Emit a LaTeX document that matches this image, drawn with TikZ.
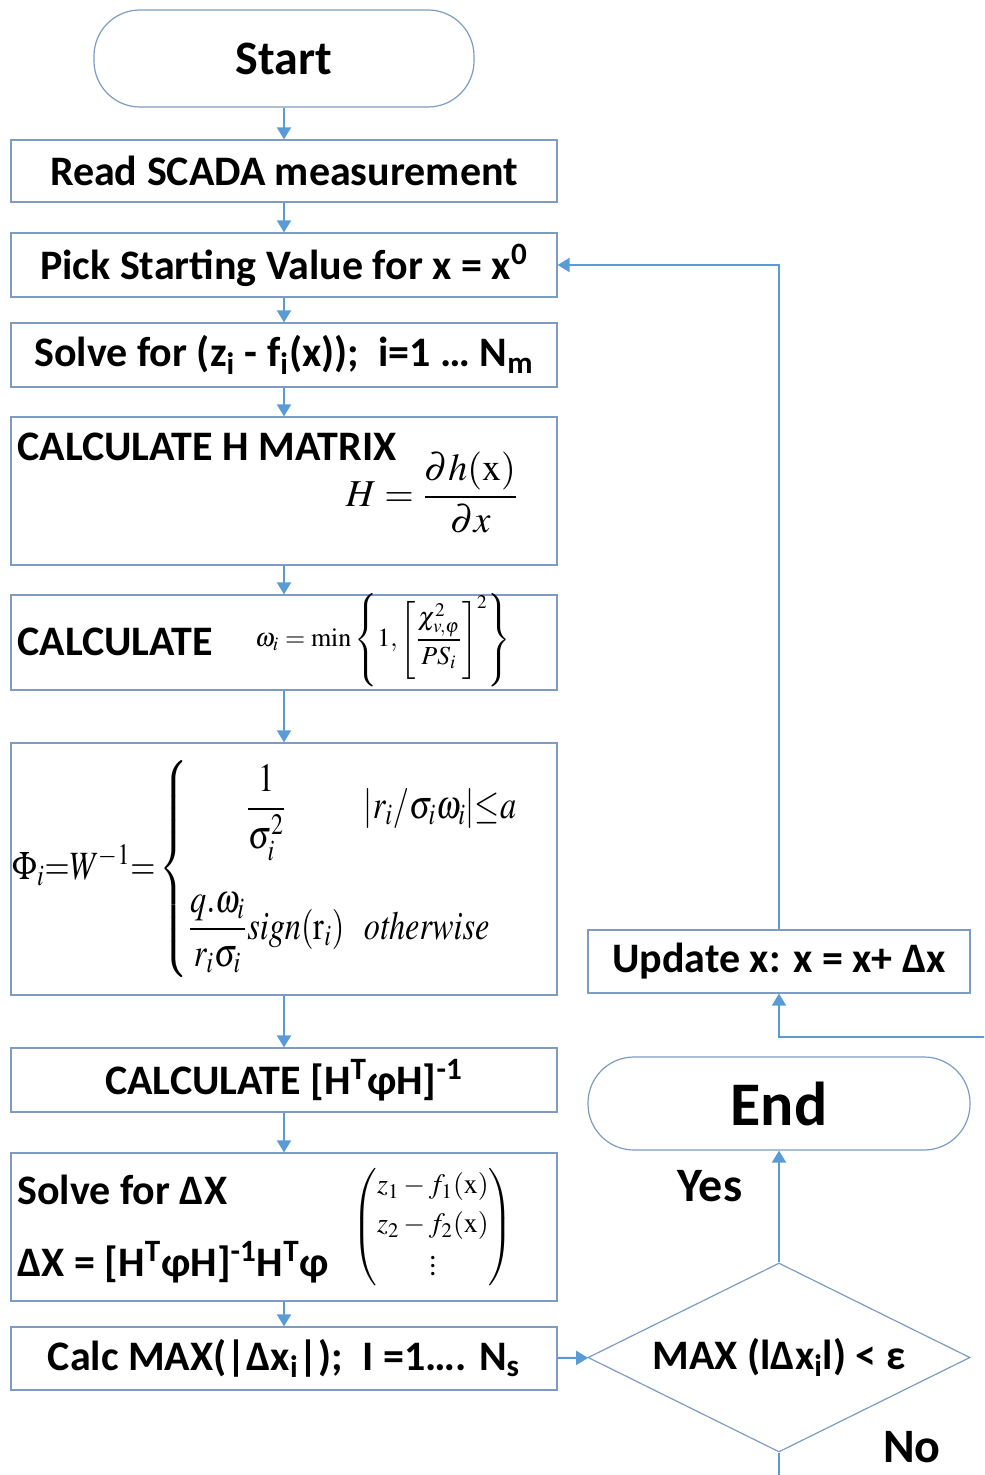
\documentclass[tikz,border=0pt]{standalone}
\usepackage{amsmath}
\usepackage{mathptmx}
\usepackage{fontspec}
\setmainfont{Carlito}
\usetikzlibrary{arrows.meta,shapes.geometric}

\definecolor{boxline}{RGB}{125,155,195}
\definecolor{flowline}{RGB}{91,155,213}

\newcommand\boxfont{\fontsize{21}{24}\selectfont\bfseries}
\newcommand\mathfontsz[1]{\fontsize{#1}{#1}\selectfont}

\tikzset{
  procbox/.style={draw=boxline, line width=0.6pt, minimum width=273pt, inner sep=0pt, font=\boxfont},
  termbox/.style={draw=boxline, line width=0.6pt, rounded corners=23pt, minimum width=190pt, inner sep=0pt, font=\fontsize{24}{28}\selectfont\bfseries},
  decbox/.style={diamond, shape aspect=2, draw=boxline, line width=0.6pt, inner sep=0pt, minimum width=191pt, minimum height=94.5pt, font=\boxfont},
  boxtext/.style={inner sep=0pt, font=\boxfont},
  answer/.style={inner sep=0pt, font=\fontsize{24}{28}\selectfont\bfseries},
  flow/.style={draw=flowline, line width=1pt, -{Triangle[width=7pt,length=6pt]}},
}

\begin{document}
\begin{tikzpicture}[x=0.5pt, y=-0.5pt]
\path[use as bounding box, clip] (0,0) rectangle (984,1475);

% main column
\node[termbox, minimum height=48.5pt] (start) at (284,58.5) {Start};
\node[procbox, minimum height=31pt] (read) at (284,171) {Read SCADA measurement};
\node[procbox, minimum height=32pt] (pick) at (284,265) {Pick Starting Value for x = x\textsuperscript{0}};
\node[procbox, minimum height=32pt] (solve) at (284,355) {Solve for (z\textsubscript{i} - f\textsubscript{i}(x));\ \ i=1 … N\textsubscript{m}};

\node[procbox, minimum height=74pt] (hmat) at (284,491) {};
\node[boxtext, anchor=west] (hmattxt) at (17,447) {CALCULATE H MATRIX};
\node[inner sep=0pt, font=\mathfontsz{19}] (hform) at (432,493) {$\displaystyle H=\frac{\partial h(\mathrm{x})}{\partial x}$};

\node[procbox, minimum height=47.5pt] (omega) at (284,642.5) {};
\node[boxtext, anchor=west] (omegatxt) at (17,642) {CALCULATE};
\node[inner sep=0pt, font=\mathfontsz{13}] (oform) at (383,640) {$\omega_i=\min\left\{1,\left[\dfrac{\chi^2_{v,\varphi}}{PS_i}\right]^2\right\}$};

\node[procbox, minimum height=126pt] (phi) at (284,869) {};
\node[inner sep=0pt, anchor=west, font=\mathfontsz{17}] (phiform) at (12,869) {\scalebox{0.95}[1.18]{$\Phi_i{=}W^{-1}{=}\left\{\begin{array}{@{}c@{\hspace{0.6em}}l@{}}
  \dfrac{1}{\sigma_i^2} & |r_i/\sigma_i\omega_i|{\le}a\\[26pt]
  \dfrac{q.\omega_i}{r_i\sigma_i}\mathit{sign}(\mathrm{r}_i) & \mathit{otherwise}
  \end{array}\right.$}};

\node[procbox, minimum height=32pt] (inv) at (284,1080) {CALCULATE [H\textsuperscript{T}φH]\textsuperscript{-1}};

\node[procbox, minimum height=74pt] (dx) at (284,1227) {};
\node[boxtext, anchor=west] (dxtxt) at (17,1190) {Solve for ΔX};
\node[boxtext, anchor=west] (dxeq) at (17,1262) {ΔX = [H\textsuperscript{T}φH]\textsuperscript{-1}H\textsuperscript{T}φ};
\node[inner sep=0pt, font=\mathfontsz{14}] (dxvec) at (433,1227) {\renewcommand\arraystretch{1.4}$\begin{pmatrix} z_1-f_1(\mathrm{x})\\ z_2-f_2(\mathrm{x})\\ \vdots \end{pmatrix}$};

\node[procbox, minimum height=31.5pt] (calc) at (284,1358.5) {Calc MAX(|Δx\textsubscript{i}|);\ \ I =1…. N\textsubscript{s}};

% right column
\node[procbox, minimum width=191pt, minimum height=31.5pt] (update) at (779,961.5) {Update x: x = x+ Δx};
\node[termbox, minimum width=191pt, minimum height=46.5pt, font=\fontsize{31}{34}\selectfont\bfseries] (end) at (779,1103.5) {End};
\node[decbox] (dec) at (779,1357.5) {MAX (lΔx\textsubscript{i}l) < ε};
\node[answer] (yes) at (710,1186) {Yes};
\node[answer] (no) at (912,1447) {No};

% connectors
\draw[flow] (start) -- (read);
\draw[flow] (read) -- (pick);
\draw[flow] (pick) -- (solve);
\draw[flow] (solve) -- (hmat);
\draw[flow] (hmat) -- (omega);
\draw[flow] (omega) -- (phi);
\draw[flow] (phi) -- (inv);
\draw[flow] (inv) -- (dx);
\draw[flow] (dx) -- (calc);
\draw[flow] (calc) -- (dec);
\draw[flow] (dec) -- (end);
\draw[flow] (update.north) |- (pick.east);
\draw[flow] (dec.south) -- ++(0,60) -| (1040,1037) -| (update.south);
\end{tikzpicture}
\end{document}
